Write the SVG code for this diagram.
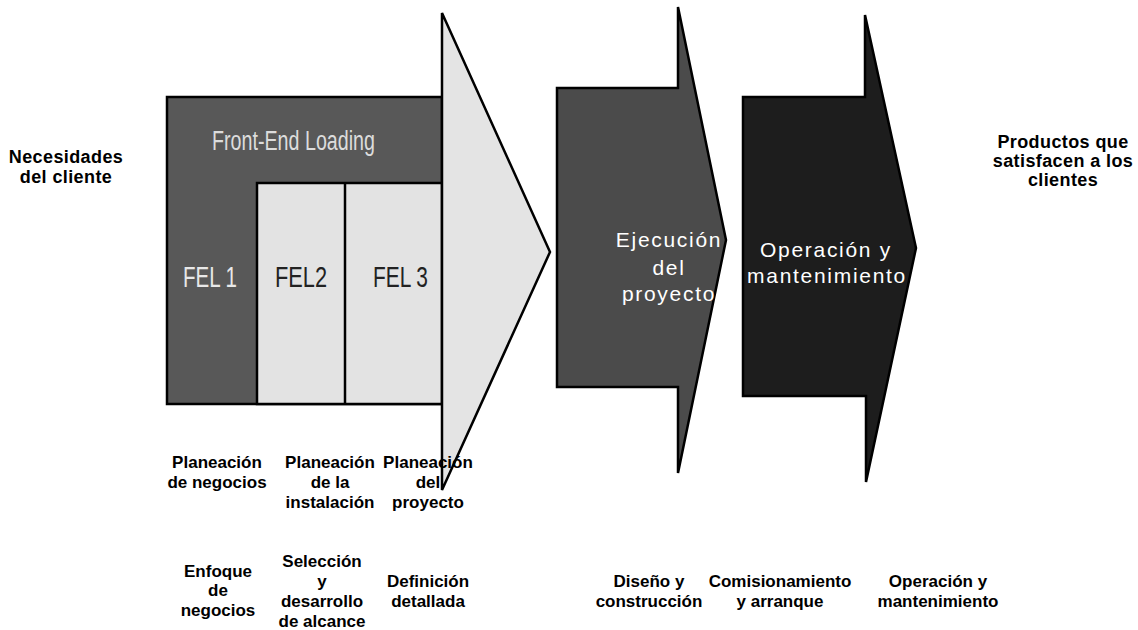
<svg xmlns="http://www.w3.org/2000/svg" width="1138" height="630" viewBox="0 0 1138 630">
<style>
.lbl{font-family:"Liberation Sans",Arial,sans-serif;font-weight:bold;font-size:17px;fill:#000;text-anchor:middle}
.side{font-family:"Liberation Sans",Arial,sans-serif;font-weight:bold;font-size:18px;fill:#000;text-anchor:middle;letter-spacing:0.4px}
.big{font-family:"Liberation Sans",Arial,sans-serif;font-size:21px;fill:#fff;text-anchor:middle;letter-spacing:1.7px}
.fel{font-family:"Liberation Sans",Arial,sans-serif;font-size:30px}
.edge{stroke:#000;stroke-width:2.5;stroke-linejoin:miter}
</style>
<rect width="1138" height="630" fill="#fff"/>
<g id="necesidades">
<text class="side" x="66" y="163">Necesidades</text>
<text class="side" x="66" y="183">del cliente</text>
</g>
<g id="fel-block">
<rect x="167" y="97" width="275" height="307" fill="#585858" class="edge"/>
<rect x="257" y="183" width="185" height="221" fill="#e3e3e3" class="edge"/>
<line x1="345" y1="183" x2="345" y2="404" class="edge"/>
<text x="212" y="150" font-family="Liberation Sans, Arial, sans-serif" font-size="27" fill="#dcdcdc" textLength="163" lengthAdjust="spacingAndGlyphs">Front-End Loading</text>
<text class="fel" x="183" y="287" fill="#e8e8e8" textLength="54" lengthAdjust="spacingAndGlyphs">FEL 1</text>
<text class="fel" x="275" y="287" fill="#222" textLength="52" lengthAdjust="spacingAndGlyphs">FEL2</text>
<text class="fel" x="373" y="287" fill="#222" textLength="55" lengthAdjust="spacingAndGlyphs">FEL 3</text>
</g>
<g id="fel-arrow">
<polygon points="442,13 550,252 442,490" fill="#e4e4e4" class="edge"/>
</g>
<g id="ejecucion">
<polygon points="557,88 678,88 678,7 726,240 678,473 678,387 557,387" fill="#4b4b4b" class="edge"/>
<text class="big" x="669" y="247">Ejecución</text>
<text class="big" x="669" y="275">del</text>
<text class="big" x="669" y="301">proyecto</text>
</g>
<g id="operacion">
<polygon points="743,97 865,97 865,15 916,248 866,482 866,396 743,396" fill="#1d1d1d" class="edge"/>
<text class="big" x="826" y="257">Operación y</text>
<text class="big" x="827" y="283">mantenimiento</text>
</g>
<g id="productos">
<text class="side" x="1063" y="148">Productos que</text>
<text class="side" x="1063" y="167">satisfacen a los</text>
<text class="side" x="1063" y="186">clientes</text>
</g>
<g id="connectors"></g>
<g id="planeacion-negocios">
<text class="lbl" x="217" y="468">Planeación</text>
<text class="lbl" x="217" y="488">de negocios</text>
</g>
<g id="planeacion-instalacion">
<text class="lbl" x="330" y="468">Planeación</text>
<text class="lbl" x="330" y="488">de la</text>
<text class="lbl" x="330" y="508">instalación</text>
</g>
<g id="planeacion-proyecto">
<text class="lbl" x="428" y="468">Planeación</text>
<text class="lbl" x="428" y="488">del</text>
<text class="lbl" x="428" y="508">proyecto</text>
</g>
<g id="enfoque">
<text class="lbl" x="218" y="577">Enfoque</text>
<text class="lbl" x="218" y="596">de</text>
<text class="lbl" x="218" y="616">negocios</text>
</g>
<g id="seleccion">
<text class="lbl" x="322" y="567">Selección</text>
<text class="lbl" x="322" y="587">y</text>
<text class="lbl" x="322" y="607">desarrollo</text>
<text class="lbl" x="322" y="627">de alcance</text>
</g>
<g id="definicion">
<text class="lbl" x="428" y="587">Definición</text>
<text class="lbl" x="428" y="607">detallada</text>
</g>
<g id="diseno">
<text class="lbl" x="649" y="587">Diseño y</text>
<text class="lbl" x="649" y="607">construcción</text>
</g>
<g id="comisionamiento">
<text class="lbl" x="780" y="587">Comisionamiento</text>
<text class="lbl" x="780" y="607">y arranque</text>
</g>
<g id="operacion-label">
<text class="lbl" x="938" y="587">Operación y</text>
<text class="lbl" x="938" y="607">mantenimiento</text>
</g>
</svg>
